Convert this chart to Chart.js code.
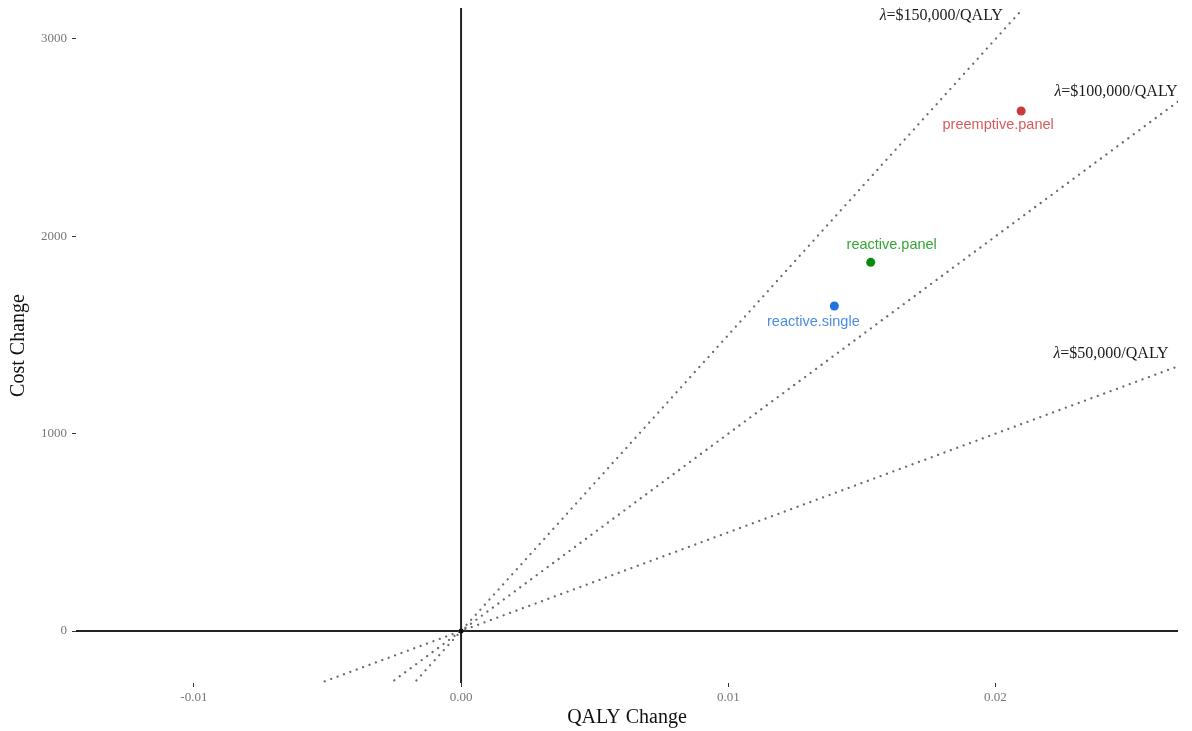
<!DOCTYPE html>
<html>
<head>
<meta charset="utf-8">
<script src="https://cdn.jsdelivr.net/npm/chart.js@4/dist/chart.umd.min.js"></script>
<style>
html,body{margin:0;padding:0;background:#fff;}
#wrap{width:1192px;height:731px;position:relative;}
</style>
</head>
<body>
<div id="wrap"><canvas id="c" width="1192" height="731"></canvas></div>
<script>
// ---- data ----
const strategies = ["preemptive.panel", "reactive.panel", "reactive.single"];
const qalyChange = [0.02096, 0.01533, 0.01397];
const costChange = [2635, 1868, 1647];
const pointColors = ["#c93a3a", "#0b8a0b", "#1f72df"];
const labelColors = ["#d65a5a", "#35a535", "#4a8ee6"];

const wtpLabels = ["λ=$150,000/QALY", "λ=$100,000/QALY", "λ=$50,000/QALY"];
const wtpValues = [150000, 100000, 50000];
const wtpStartX = [-0.00167, -0.0025, -0.0051];
const wtpEndX = [0.02104, 0.02683, 0.02683];

const xTicks = [-0.01, 0.00, 0.01, 0.02];
const yTicks = [0, 1000, 2000, 3000];
const xMin = -0.01441, xMax = 0.02683;
const yMin = -263.5, yMax = 3157;

// ---- datasets ----
const datasets = [];
datasets.push({ // vertical x=0 reference
  data: [{x: 0, y: yMin}, {x: 0, y: yMax}],
  showLine: true, borderColor: "#222", borderWidth: 2, pointRadius: 0, order: 5
});
datasets.push({ // horizontal y=0 reference
  data: [{x: xMin, y: 0}, {x: xMax, y: 0}],
  showLine: true, borderColor: "#222", borderWidth: 2, pointRadius: 0, order: 5
});
wtpValues.forEach((w, i) => {
  datasets.push({
    data: [{x: wtpStartX[i], y: wtpStartX[i] * w}, {x: wtpEndX[i], y: wtpEndX[i] * w}],
    showLine: true, borderColor: "#6a6a6a", borderWidth: 2.3,
    borderDash: [0.01, 6.8], borderCapStyle: "round",
    pointRadius: 0, order: 4
  });
});
datasets.push({ // origin
  data: [{x: 0, y: 0}],
  pointRadius: 2.5, backgroundColor: "#111", borderWidth: 0, order: 2
});
datasets.push({
  data: strategies.map((s, i) => ({x: qalyChange[i], y: costChange[i]})),
  pointRadius: 4.5, pointBackgroundColor: pointColors, pointBorderWidth: 0,
  order: 1
});

// label offsets in pixels (relative to points / line ends)
const labelOffsets = [[-23, 14], [21, -17], [-21, 16]];
const wtpLabelOffsets = [[-82, 8], [-62, -10], [-67, -12]];

const labelPlugin = {
  id: "labels",
  afterDatasetsDraw(chart) {
    const ctx = chart.ctx;
    const xs = chart.scales.x, ys = chart.scales.y;
    ctx.save();
    ctx.textAlign = "center";
    ctx.textBaseline = "middle";
    ctx.font = "14.5px 'Liberation Sans', Arial, sans-serif";
    strategies.forEach((s, i) => {
      const px = xs.getPixelForValue(qalyChange[i]);
      const py = ys.getPixelForValue(costChange[i]);
      ctx.fillStyle = labelColors[i];
      ctx.fillText(s, px + labelOffsets[i][0], py + labelOffsets[i][1]);
    });
    wtpLabels.forEach((t, i) => {
      const ex = xs.getPixelForValue(wtpEndX[i]);
      const ey = ys.getPixelForValue(wtpEndX[i] * wtpValues[i]);
      const cx = ex + wtpLabelOffsets[i][0], cy = ey + wtpLabelOffsets[i][1];
      const lam = t.slice(0, 1), rest = t.slice(1);
      const fItal = "italic 16px 'Liberation Serif', 'Times New Roman', serif";
      const fNorm = "16px 'Liberation Serif', 'Times New Roman', serif";
      ctx.font = fItal; const w1 = ctx.measureText(lam).width;
      ctx.font = fNorm; const w2 = ctx.measureText(rest).width;
      const x0 = cx - (w1 + w2) / 2;
      ctx.textAlign = "left";
      ctx.fillStyle = "#1a1a1a";
      ctx.font = fItal; ctx.fillText(lam, x0, cy);
      ctx.font = fNorm; ctx.fillText(rest, x0 + w1, cy);
      ctx.textAlign = "center";
    });
    ctx.restore();
  }
};

new Chart(document.getElementById("c"), {
  type: "scatter",
  data: { datasets },
  options: {
    responsive: false,
    animation: false,
    events: [],
    layout: { padding: { top: 8, right: 14, left: 0, bottom: 0 } },
    plugins: { legend: { display: false }, tooltip: { enabled: false } },
    scales: {
      x: {
        type: "linear", min: xMin, max: xMax,
        afterBuildTicks: s => { s.ticks = xTicks.map(v => ({value: v})); },
        afterFit: s => { s.height = 48; s.paddingLeft = 0; s.paddingRight = 0; },
        ticks: {
          padding: 3, color: "#777",
          font: { family: "'Liberation Serif', 'Times New Roman', serif", size: 13 },
          callback: v => Number(v).toFixed(2)
        },
        grid: { display: true, drawOnChartArea: false, drawTicks: true, tickLength: 4, color: "#333", lineWidth: 1 },
        border: { display: false },
        title: {
          display: true, text: "QALY Change", color: "#111",
          font: { family: "'Liberation Serif', 'Times New Roman', serif", size: 20 },
          padding: { top: 0, bottom: 1 }
        }
      },
      y: {
        type: "linear", min: yMin, max: yMax,
        afterBuildTicks: s => { s.ticks = yTicks.map(v => ({value: v})); },
        afterFit: s => { s.width = 76; s.paddingTop = 0; s.paddingBottom = 0; },
        ticks: {
          padding: 5, color: "#777",
          font: { family: "'Liberation Serif', 'Times New Roman', serif", size: 13 },
          callback: v => String(v)
        },
        grid: { display: true, drawOnChartArea: false, drawTicks: true, tickLength: 4, color: "#333", lineWidth: 1 },
        border: { display: false },
        title: {
          display: true, text: "Cost Change", color: "#111",
          font: { family: "'Liberation Serif', 'Times New Roman', serif", size: 20 },
          padding: { top: 7, bottom: 0 }
        }
      }
    }
  },
  plugins: [labelPlugin]
});
</script>
</body>
</html>
